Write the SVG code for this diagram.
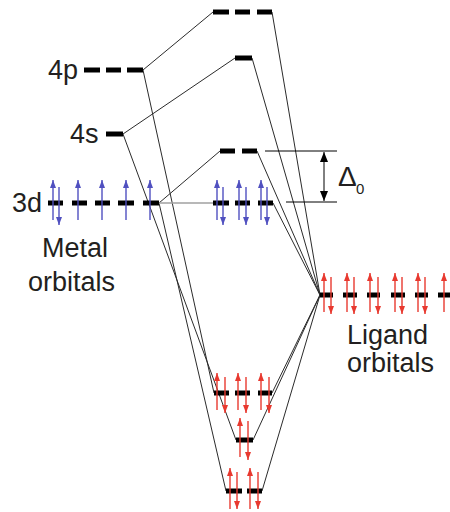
<svg xmlns="http://www.w3.org/2000/svg" width="450" height="512" viewBox="0 0 450 512">
<style>
text{font-family:"Liberation Sans",Arial,sans-serif;fill:#231f20}
.lbl{font-size:27px}
.lvl{stroke:#000;stroke-width:5}
.con{stroke:#2b2b2b;stroke-width:1;fill:none}
.gray{stroke:#a0a0a0;stroke-width:1.5}
.eb{stroke:#5050c0;stroke-width:1.4}
.er{stroke:#e8392f;stroke-width:1.4}
.dl{stroke:#000;stroke-width:1}
</style>
<defs>
<marker id="hb" viewBox="0 0 8 6" refX="8" refY="3" markerWidth="8" markerHeight="6" markerUnits="userSpaceOnUse" orient="auto"><path d="M0,0L8,3L0,6z" fill="#5050c0"/></marker>
<marker id="hr" viewBox="0 0 8 6" refX="8" refY="3" markerWidth="8" markerHeight="6" markerUnits="userSpaceOnUse" orient="auto"><path d="M0,0L8,3L0,6z" fill="#e8392f"/></marker>
<marker id="hk" viewBox="0 0 10 8" refX="10" refY="4" markerWidth="10" markerHeight="8" markerUnits="userSpaceOnUse" orient="auto"><path d="M0,0L10,4L0,8z" fill="#000"/></marker>
</defs>

<g id="connectors">
<line class="con" x1="143" y1="70" x2="213" y2="12"/>
<line class="con" x1="272" y1="12" x2="320" y2="295"/>
<line class="con" x1="143" y1="70" x2="214" y2="393"/>
<line class="con" x1="123" y1="134" x2="235" y2="58"/>
<line class="con" x1="252" y1="58" x2="320" y2="295"/>
<line class="con" x1="123" y1="134" x2="236" y2="440"/>
<line class="con" x1="159" y1="203" x2="220" y2="151"/>
<line class="con" x1="257" y1="151" x2="320" y2="295"/>
<line class="con" x1="159" y1="203" x2="226" y2="491"/>
<line class="con" x1="273" y1="203" x2="320" y2="295"/>
<line class="con" x1="272" y1="393" x2="320" y2="295"/>
<line class="con" x1="253" y1="440" x2="320" y2="295"/>
<line class="con" x1="262" y1="491" x2="320" y2="295"/>
<line class="gray" x1="159" y1="203" x2="213" y2="203"/>
</g>

<g id="metal-4p">
<text class="lbl" x="48" y="79">4p</text>
<line class="lvl" x1="84" y1="70" x2="100" y2="70"/>
<line class="lvl" x1="106" y1="70" x2="121" y2="70"/>
<line class="lvl" x1="127" y1="70" x2="143" y2="70"/>
</g>

<g id="metal-4s">
<text class="lbl" x="70" y="143">4s</text>
<line class="lvl" x1="106" y1="134" x2="123" y2="134"/>
</g>

<g id="metal-3d">
<text class="lbl" x="12" y="212">3d</text>
<line class="lvl" x1="48" y1="203" x2="63" y2="203"/>
<line class="lvl" x1="72" y1="203" x2="87" y2="203"/>
<line class="lvl" x1="95" y1="203" x2="110" y2="203"/>
<line class="lvl" x1="118" y1="203" x2="134" y2="203"/>
<line class="lvl" x1="143" y1="203" x2="159" y2="203"/>
<line class="eb" x1="53" y1="220" x2="53" y2="180" marker-end="url(#hb)"/>
<line class="eb" x1="59" y1="187" x2="59" y2="225" marker-end="url(#hb)"/>
<line class="eb" x1="78" y1="220" x2="78" y2="180" marker-end="url(#hb)"/>
<line class="eb" x1="102" y1="220" x2="102" y2="180" marker-end="url(#hb)"/>
<line class="eb" x1="126" y1="220" x2="126" y2="180" marker-end="url(#hb)"/>
<line class="eb" x1="150" y1="220" x2="150" y2="180" marker-end="url(#hb)"/>
<text class="lbl" x="42" y="257">Metal</text>
<text class="lbl" x="28" y="291">orbitals</text>
</g>

<g id="mo-t1u-star">
<line class="lvl" x1="213" y1="12" x2="229" y2="12"/>
<line class="lvl" x1="235" y1="12" x2="250" y2="12"/>
<line class="lvl" x1="257" y1="12" x2="272" y2="12"/>
</g>

<g id="mo-a1g-star">
<line class="lvl" x1="235" y1="58" x2="252" y2="58"/>
</g>

<g id="mo-eg-star">
<line class="lvl" x1="220" y1="151" x2="235" y2="151"/>
<line class="lvl" x1="242" y1="151" x2="257" y2="151"/>
</g>

<g id="mo-t2g">
<line class="lvl" x1="213" y1="203" x2="229" y2="203"/>
<line class="lvl" x1="235" y1="203" x2="250" y2="203"/>
<line class="lvl" x1="258" y1="203" x2="273" y2="203"/>
<line class="eb" x1="217" y1="220" x2="217" y2="180" marker-end="url(#hb)"/>
<line class="eb" x1="223" y1="187" x2="223" y2="225" marker-end="url(#hb)"/>
<line class="eb" x1="239" y1="220" x2="239" y2="180" marker-end="url(#hb)"/>
<line class="eb" x1="246" y1="187" x2="246" y2="225" marker-end="url(#hb)"/>
<line class="eb" x1="261" y1="220" x2="261" y2="180" marker-end="url(#hb)"/>
<line class="eb" x1="267" y1="187" x2="267" y2="225" marker-end="url(#hb)"/>
</g>

<g id="delta">
<line class="dl" x1="265" y1="151" x2="337" y2="151"/>
<line class="dl" x1="286" y1="202" x2="337" y2="202"/>
<line class="dl" x1="324" y1="176" x2="324" y2="152" marker-end="url(#hk)"/>
<line class="dl" x1="324" y1="176" x2="324" y2="201" marker-end="url(#hk)"/>
<text x="338" y="186" font-size="28">Δ</text>
<text x="356" y="194" font-size="15">0</text>
</g>

<g id="ligand">
<line class="lvl" x1="320" y1="295" x2="333" y2="295"/>
<line class="lvl" x1="343" y1="295" x2="357" y2="295"/>
<line class="lvl" x1="367" y1="295" x2="380" y2="295"/>
<line class="lvl" x1="391" y1="295" x2="405" y2="295"/>
<line class="lvl" x1="415" y1="295" x2="428" y2="295"/>
<line class="lvl" x1="438" y1="295" x2="451" y2="295"/>
<line class="er" x1="324" y1="312" x2="324" y2="273" marker-end="url(#hr)"/>
<line class="er" x1="331" y1="277" x2="331" y2="314" marker-end="url(#hr)"/>
<line class="er" x1="347" y1="312" x2="347" y2="273" marker-end="url(#hr)"/>
<line class="er" x1="354" y1="277" x2="354" y2="314" marker-end="url(#hr)"/>
<line class="er" x1="370" y1="312" x2="370" y2="273" marker-end="url(#hr)"/>
<line class="er" x1="378" y1="277" x2="378" y2="314" marker-end="url(#hr)"/>
<line class="er" x1="395" y1="312" x2="395" y2="273" marker-end="url(#hr)"/>
<line class="er" x1="402" y1="277" x2="402" y2="314" marker-end="url(#hr)"/>
<line class="er" x1="418" y1="312" x2="418" y2="273" marker-end="url(#hr)"/>
<line class="er" x1="425" y1="277" x2="425" y2="314" marker-end="url(#hr)"/>
<line class="er" x1="444" y1="312" x2="444" y2="273" marker-end="url(#hr)"/>
<text class="lbl" x="347" y="344">Ligand</text>
<text class="lbl" x="347" y="372">orbitals</text>
</g>

<g id="mo-t1u">
<line class="lvl" x1="214" y1="393" x2="229" y2="393"/>
<line class="lvl" x1="235" y1="393" x2="250" y2="393"/>
<line class="lvl" x1="258" y1="393" x2="272" y2="393"/>
<line class="er" x1="217" y1="410" x2="217" y2="373" marker-end="url(#hr)"/>
<line class="er" x1="225" y1="377" x2="225" y2="413" marker-end="url(#hr)"/>
<line class="er" x1="238" y1="410" x2="238" y2="373" marker-end="url(#hr)"/>
<line class="er" x1="246" y1="377" x2="246" y2="413" marker-end="url(#hr)"/>
<line class="er" x1="261" y1="410" x2="261" y2="373" marker-end="url(#hr)"/>
<line class="er" x1="269" y1="377" x2="269" y2="413" marker-end="url(#hr)"/>
</g>

<g id="mo-a1g">
<line class="lvl" x1="236" y1="440" x2="253" y2="440"/>
<line class="er" x1="240" y1="457" x2="240" y2="418" marker-end="url(#hr)"/>
<line class="er" x1="248" y1="421" x2="248" y2="460" marker-end="url(#hr)"/>
</g>

<g id="mo-eg">
<line class="lvl" x1="226" y1="491" x2="242" y2="491"/>
<line class="lvl" x1="247" y1="491" x2="262" y2="491"/>
<line class="er" x1="230" y1="509" x2="230" y2="468" marker-end="url(#hr)"/>
<line class="er" x1="237" y1="472" x2="237" y2="509" marker-end="url(#hr)"/>
<line class="er" x1="250" y1="509" x2="250" y2="468" marker-end="url(#hr)"/>
<line class="er" x1="258" y1="472" x2="258" y2="509" marker-end="url(#hr)"/>
</g>
</svg>
